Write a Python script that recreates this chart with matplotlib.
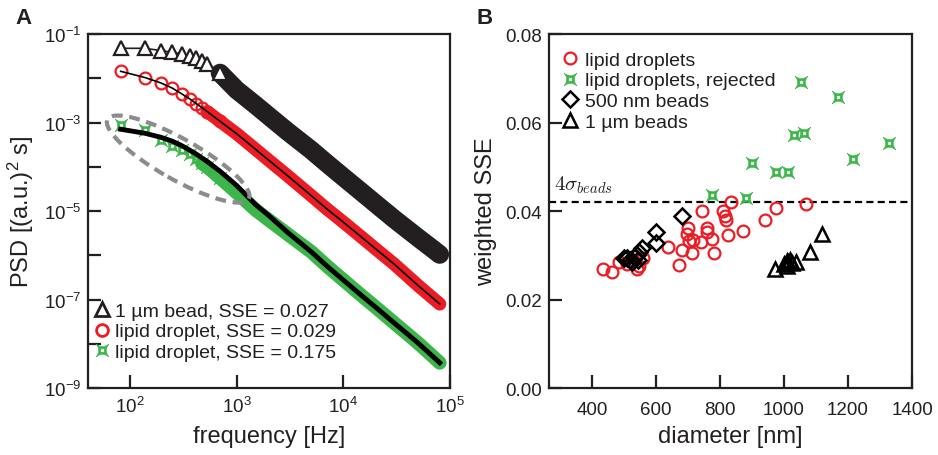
import numpy as np
import matplotlib
matplotlib.use("Agg")
import matplotlib.pyplot as plt
from matplotlib.path import Path
from matplotlib.patches import Ellipse
from matplotlib.lines import Line2D
from matplotlib.ticker import NullLocator

plt.rcParams['font.family'] = ['Liberation Sans', 'DejaVu Sans']
plt.rcParams['mathtext.fontset'] = 'custom'
plt.rcParams['mathtext.rm'] = 'Liberation Sans'
plt.rcParams['mathtext.it'] = 'Liberation Sans:italic'
plt.rcParams['mathtext.default'] = 'regular'

INK = '#231f20'
RED = '#ec1c24'
GREEN = '#3cb54a'
GRAY = '#8c8c8c'

# ---- panel A: power spectra, log10(PSD) ----
freq = [82, 138, 194, 250, 306, 362, 418, 474, 530, 700, 1000, 1500, 2000,
        3000, 5000, 7000, 10000, 15000, 20000, 30000, 50000, 70000, 80000]
bead_log = [-1.32, -1.32, -1.37, -1.41, -1.45, -1.50, -1.55, -1.61, -1.67,
            -1.88, -2.26, -2.60, -2.85, -3.20, -3.62, -3.92, -4.23, -4.58,
            -4.83, -5.18, -5.60, -5.87, -5.98]
drop_log = [-1.84, -1.98, -2.10, -2.22, -2.35, -2.46, -2.57, -2.66, -2.75,
            -2.97, -3.25, -3.60, -3.85, -4.20, -4.65, -4.95, -5.25, -5.60,
            -5.85, -6.20, -6.68, -6.98, -7.10]
bad_log = [-3.06, -3.17, -3.40, -3.52, -3.62, -3.72, -3.82, -3.92, -4.00,
           -4.25, -4.58, -4.97, -5.20, -5.52, -5.92, -6.24, -6.56, -6.92,
           -7.17, -7.53, -7.98, -8.30, -8.43]
bad_fit_log = [-3.15, -3.24, -3.33, -3.42, -3.52, -3.62, -3.71, -3.80, -3.88,
               -4.10, -4.42, -4.85, -5.10, -5.48, -5.92, -6.24, -6.56, -6.92,
               -7.17, -7.53, -7.98, -8.30, -8.43]
n_sep = 10  # first points drawn as separate markers, the rest merge to a band

# ---- panel B: weighted SSE vs diameter ----
drop_d = [435, 463, 484, 510, 528, 540, 548, 560, 639, 673, 682, 696, 701, 703,
          714, 716, 741, 743, 758, 761, 775, 782, 810, 815, 819, 826, 834, 871,
          940, 974, 1069]
drop_sse = [0.0268, 0.0262, 0.0286, 0.0280, 0.0290, 0.0270, 0.0276, 0.0295,
            0.0318, 0.0278, 0.0313, 0.0348, 0.0361, 0.0333, 0.0306, 0.0335,
            0.0329, 0.0401, 0.0361, 0.0352, 0.0337, 0.0305, 0.0400, 0.0390,
            0.0380, 0.0347, 0.0421, 0.0356, 0.0380, 0.0406, 0.0415]
rej_d = [1053, 1170, 1031, 1063, 1328, 899, 1217, 974, 1012, 776, 881]
rej_sse = [0.0692, 0.0659, 0.0572, 0.0576, 0.0554, 0.0508, 0.0517, 0.0489,
           0.0489, 0.0437, 0.0429]
b500_d = [680, 600, 600, 556, 548, 540, 530, 520, 510, 500, 545, 525]
b500_sse = [0.0390, 0.0352, 0.0328, 0.0316, 0.0308, 0.0300, 0.0296, 0.0290,
            0.0293, 0.0295, 0.0290, 0.0285]
b1um_d = [973, 1000, 1008, 1013, 1018, 1025, 1037, 1080, 1120, 1010]
b1um_sse = [0.0270, 0.0280, 0.0288, 0.0285, 0.0290, 0.0282, 0.0285, 0.0308,
            0.0348, 0.0275]
threshold = 0.042

# four-pointed green marker with a hole
c = 0.15
h = 0.28
star = Path(
    [(1, 1), (0, c), (-1, 1), (-c, 0), (-1, -1), (0, -c), (1, -1), (c, 0), (1, 1), (1, 1),
     (h, h), (h, -h), (-h, -h), (-h, h), (h, h)],
    [Path.MOVETO, Path.CURVE3, Path.CURVE3, Path.CURVE3, Path.CURVE3,
     Path.CURVE3, Path.CURVE3, Path.CURVE3, Path.CURVE3, Path.CLOSEPOLY,
     Path.MOVETO, Path.LINETO, Path.LINETO, Path.LINETO, Path.CLOSEPOLY])

fig = plt.figure(figsize=(9.38, 4.56), dpi=100)
axA = fig.add_axes([0.0938, 0.1469, 0.386, 0.776])
axB = fig.add_axes([0.5853, 0.1469, 0.387, 0.776])

f = np.array(freq)
bead = 10 ** np.array(bead_log)
drop = 10 ** np.array(drop_log)
bad = 10 ** np.array(bad_log)
bad_fit = 10 ** np.array(bad_fit_log)

# 1 um bead
axA.plot(f, bead, color=INK, lw=1.2, zorder=2)
axA.plot(f[n_sep - 1:], bead[n_sep - 1:], color=INK, lw=13.5, solid_capstyle='round', zorder=3)
axA.plot(f[:n_sep], bead[:n_sep], ls='none', marker='^', ms=10, mfc='white',
         mec=INK, mew=1.6, zorder=4)
# lipid droplet
axA.plot(f[n_sep - 2:], drop[n_sep - 2:], color=RED, lw=9.5, solid_capstyle='round', zorder=5)
axA.plot(f[:n_sep], drop[:n_sep], ls='none', marker='o', ms=8.5, mfc='none',
         mec=RED, mew=1.6, zorder=5)
axA.plot(f, drop, color='black', lw=1.2, zorder=6)
# rejected droplet
axA.plot(f[n_sep - 3:], bad[n_sep - 3:], color=GREEN, lw=10, solid_capstyle='round', zorder=7)
axA.plot(f[:n_sep], bad[:n_sep], ls='none', marker=star, ms=9, mfc=GREEN,
         mec=GREEN, mew=0.5, zorder=7)
axA.plot(f, bad_fit, color='black', lw=3.5, zorder=8)

axA.add_patch(Ellipse((0.249, 0.647), 0.45, 0.115, angle=-30, transform=axA.transAxes,
                      fill=False, ec=GRAY, lw=3, ls=(0, (2.6, 1.6)), zorder=9))

axA.set_xscale('log')
axA.set_yscale('log')
axA.set_xlim(40.5, 1e5)
axA.set_ylim(1e-9, 1e-1)
axA.set_xticks([1e2, 1e3, 1e4, 1e5])
axA.set_xticklabels([r'$10^{%d}$' % k for k in (2, 3, 4, 5)])
axA.set_yticks([10.0 ** k for k in range(-9, 0)])
axA.set_yticklabels([r'$10^{%d}$' % k if k % 2 else '' for k in range(-9, 0)])
axA.xaxis.set_minor_locator(NullLocator())
axA.yaxis.set_minor_locator(NullLocator())
axA.set_xlabel('frequency [Hz]', fontsize=17, color=INK)
axA.set_ylabel(r'PSD [(a.u.)$^2$ s]', fontsize=17, color=INK)
axA.xaxis.set_label_coords(0.5, -0.105)
axA.yaxis.set_label_coords(-0.144, 0.5)

legA = [Line2D([], [], ls='none', marker='^', ms=10, mfc='white', mec=INK, mew=2),
        Line2D([], [], ls='none', marker='o', ms=8.5, mfc='none', mec=RED, mew=2),
        Line2D([], [], ls='none', marker=star, ms=9, mfc=GREEN, mec=GREEN, mew=0.5)]
axA.legend(legA, ['1 µm bead, SSE = 0.027', 'lipid droplet, SSE = 0.029',
                  'lipid droplet, SSE = 0.175'],
           loc='lower left', bbox_to_anchor=(0.0, 0.06), frameon=False, fontsize=14,
           handlelength=0.8, handletextpad=0.3, labelspacing=0.15, borderaxespad=0,
           borderpad=0.3, labelcolor=INK)

# ---- panel B ----
axB.axhline(threshold, color='black', lw=1.6, ls=(0, (3.2, 1.9)), zorder=1)
axB.plot(drop_d, drop_sse, ls='none', marker='o', ms=8.5, mfc='none', mec=RED, mew=1.6,
         label='lipid droplets', zorder=3)
axB.plot(rej_d, rej_sse, ls='none', marker=star, ms=9, mfc=GREEN, mec=GREEN, mew=0.5,
         label='lipid droplets, rejected', zorder=3)
axB.plot(b500_d, b500_sse, ls='none', marker='D', ms=8, mfc='none', mec='black', mew=1.8,
         label='500 nm beads', zorder=4)
axB.plot(b1um_d, b1um_sse, ls='none', marker='^', ms=10, mfc='none', mec='black', mew=1.8,
         label='1 µm beads', zorder=4)
axB.text(283, 0.0436, r'$\mathrm{4}\mathit{\sigma_{beads}}$', math_fontfamily='cm',
         fontsize=15, color=INK, va='bottom')

axB.set_xlim(266, 1400)
axB.set_ylim(0, 0.08)
axB.set_xticks([400, 600, 800, 1000, 1200, 1400])
axB.set_yticks([0.00, 0.02, 0.04, 0.06, 0.08])
axB.set_yticklabels(['0.00', '0.02', '0.04', '0.06', '0.08'])
axB.set_xlabel('diameter [nm]', fontsize=17, color=INK)
axB.set_ylabel('weighted SSE', fontsize=17, color=INK)
axB.xaxis.set_label_coords(0.5, -0.105)
axB.yaxis.set_label_coords(-0.143, 0.5)
axB.legend(loc='upper left', bbox_to_anchor=(0.02, 0.968), frameon=False, fontsize=14,
           handlelength=0.8, handletextpad=0.4, labelspacing=0.15, borderaxespad=0,
           borderpad=0.3, labelcolor=INK)

for ax in (axA, axB):
    for s in ax.spines.values():
        s.set_linewidth(1.6)
        s.set_color(INK)
    ax.tick_params(which='both', direction='in', length=9.5, width=1.6, color=INK,
                   labelsize=13.5, labelcolor=INK, top=False, right=False)
    ax.tick_params(axis='y', pad=5)
axA.tick_params(axis='x', pad=6)
axB.tick_params(axis='x', pad=9)

fig.text(0.016, 0.983, 'A', fontsize=16, fontweight='bold', color=INK, va='top')
fig.text(0.508, 0.983, 'B', fontsize=16, fontweight='bold', color=INK, va='top')

fig.savefig('out.png', dpi=100)
